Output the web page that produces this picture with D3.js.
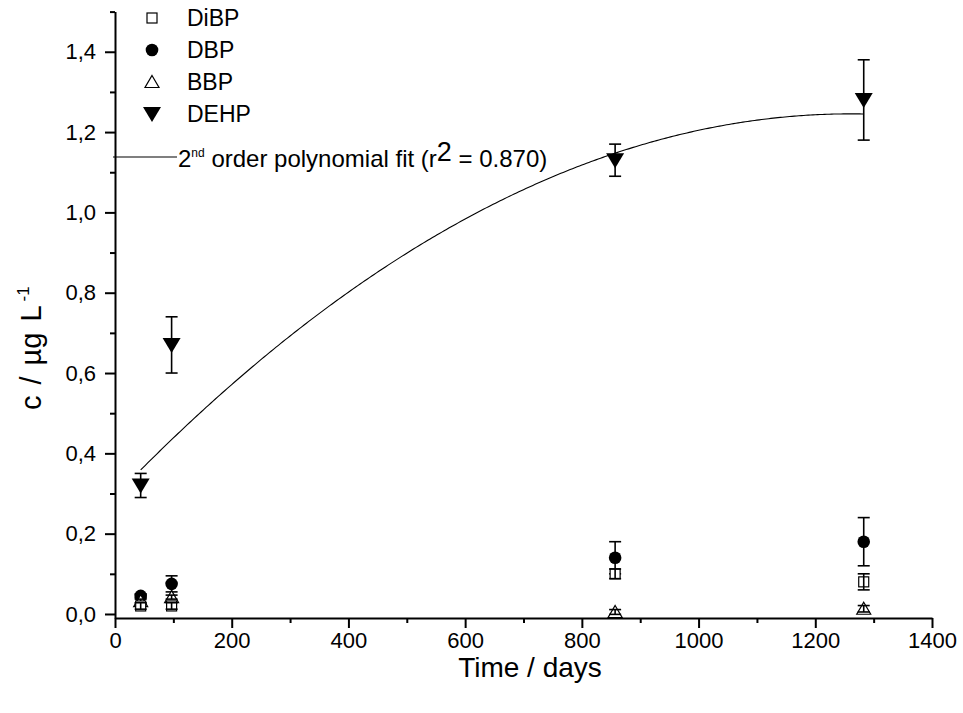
<!DOCTYPE html>
<html>
<head>
<meta charset="utf-8">
<script src="https://cdn.jsdelivr.net/npm/d3@7"></script>
<style>
  html, body { margin: 0; padding: 0; background: #fff; }
  svg { display: block; font-family: "Liberation Sans", Arial, sans-serif; }
</style>
</head>
<body>
<svg id="chart" width="963" height="713"></svg>
<script>
// ---- data ----
const days     = [44, 97, 857, 1283];
const dibp     = [0.020, 0.020, 0.100, 0.080];
const dibpErr  = [0.008, 0.008, 0.012, 0.020];
const dbp      = [0.045, 0.075, 0.140, 0.180];
const dbpErr   = [0.005, 0.020, 0.040, 0.060];
const bbp      = [0.032, 0.042, 0.005, 0.013];
const bbpErr   = [0.005, 0.005, 0.006, 0.008];
const dehp     = [0.32, 0.67, 1.13, 1.28];
const dehpErr  = [0.03, 0.07, 0.04, 0.10];
// 2nd order polynomial fit of DEHP: c = a + b*t + c*t^2
const fitCoef  = [0.2934, 1.509e-3, -5.98e-7];
const fitRange = [44, 1283];
const xTicks   = [0, 200, 400, 600, 800, 1000, 1200, 1400];
const xMinor   = [100, 300, 500, 700, 900, 1100, 1300];
const yTicks   = [0, 0.2, 0.4, 0.6, 0.8, 1.0, 1.2, 1.4];
const yMinor   = [0.1, 0.3, 0.5, 0.7, 0.9, 1.1, 1.3, 1.5];
const legendNames = ["DiBP", "DBP", "BBP", "DEHP"];

const svg = d3.select("#chart");
svg.append("rect").attr("width", 963).attr("height", 713).attr("fill", "#fff");

const x = d3.scaleLinear().domain([0, 1400]).range([115, 932]);
const y = d3.scaleLinear().domain([-0.01, 1.5]).range([618, 11.6]);

// ---- axes ----
const fmtY = d => d.toFixed(1).replace(".", ",");
const gx = svg.append("g").attr("transform", "translate(0,618)");
gx.call(d3.axisBottom(x).tickValues(xTicks).tickSize(10).tickSizeOuter(0).tickPadding(4).tickFormat(d3.format("d")));
const gxm = svg.append("g").attr("transform", "translate(0,618)");
gxm.call(d3.axisBottom(x).tickValues(xMinor).tickSize(5).tickSizeOuter(0).tickFormat(""));
gxm.select(".domain").remove();

const gy = svg.append("g").attr("transform", "translate(115,0)");
gy.call(d3.axisLeft(y).tickValues(yTicks).tickSize(10).tickSizeOuter(0).tickPadding(9).tickFormat(fmtY));
const gym = svg.append("g").attr("transform", "translate(115,0)");
gym.call(d3.axisLeft(y).tickValues(yMinor).tickSize(5).tickSizeOuter(0).tickFormat(""));
gym.select(".domain").remove();

[gx, gy, gxm, gym].forEach(g => {
  g.selectAll("path, line").attr("stroke", "#000").attr("stroke-width", 2);
  g.selectAll("text").attr("fill", "#000").style("font-size", "22px")
    .style("font-family", '"Liberation Sans", Arial, sans-serif');
});

// axis titles
svg.append("text").attr("x", 530).attr("y", 677).attr("text-anchor", "middle")
  .style("font-size", "28px").text("Time / days");
const yt = svg.append("text").attr("transform", "translate(41,410) rotate(-90)")
  .attr("text-anchor", "start").style("font-size", "29px");
yt.append("tspan").text("c");
yt.append("tspan").attr("dx", 11).text("/");
yt.append("tspan").attr("dx", 11).text("\u00b5g");
yt.append("tspan").attr("dx", 11).text("L");
yt.append("tspan").attr("dx", 4).attr("dy", -12).style("font-size", "17px").text("-1");

// ---- fit curve ----
const poly = t => fitCoef[0] + fitCoef[1] * t + fitCoef[2] * t * t;
const fitPts = d3.range(fitRange[0], fitRange[1], 4).concat([fitRange[1]]).map(t => [t, poly(t)]);
svg.append("path").datum(fitPts)
  .attr("d", d3.line().x(d => x(d[0])).y(d => y(d[1])))
  .attr("fill", "none").attr("stroke", "#000").attr("stroke-width", 1.1);

// ---- markers ----
function drawSymbol(g, type, cx, cy) {
  if (type === "square") {
    g.append("rect").attr("x", cx - 5).attr("y", cy - 5).attr("width", 10).attr("height", 10)
      .attr("fill", "#fff").attr("stroke", "#000").attr("stroke-width", 1.2);
  } else if (type === "circle") {
    g.append("circle").attr("cx", cx).attr("cy", cy).attr("r", 6.3).attr("fill", "#000");
  } else if (type === "tri") {
    g.append("path").attr("d", `M${cx},${cy - 6.5}L${cx + 7},${cy + 5.5}L${cx - 7},${cy + 5.5}Z`)
      .attr("fill", "#fff").attr("stroke", "#000").attr("stroke-width", 1.2);
  } else if (type === "tridown") {
    g.append("path").attr("d", `M${cx - 9},${cy - 7}L${cx + 9},${cy - 7}L${cx},${cy + 8}Z`)
      .attr("fill", "#000");
  }
}
function drawErr(g, cx, v, e) {
  const y1 = y(v + e), y2 = y(v - e);
  g.append("line").attr("x1", cx).attr("x2", cx).attr("y1", y1).attr("y2", y2)
    .attr("stroke", "#000").attr("stroke-width", 1.6);
  [y1, y2].forEach(yy => g.append("line").attr("x1", cx - 6).attr("x2", cx + 6)
    .attr("y1", yy).attr("y2", yy).attr("stroke", "#000").attr("stroke-width", 1.6));
}

const series = [
  { vals: dbp,  errs: dbpErr,  type: "circle" },
  { vals: bbp,  errs: bbpErr,  type: "tri" },
  { vals: dibp, errs: dibpErr, type: "square" },
  { vals: dehp, errs: dehpErr, type: "tridown" }
];
const gm = svg.append("g");
series.forEach(s => {
  days.forEach((t, i) => {
    const cx = x(t), cy = y(s.vals[i]);
    drawSymbol(gm, s.type, cx, cy);
    drawErr(gm, cx, s.vals[i], s.errs[i]);
  });
});

// ---- legend ----
const leg = svg.append("g");
const legTypes = ["square", "circle", "tri", "tridown"];
const legY = [18, 50, 82, 114];
legendNames.forEach((n, i) => {
  drawSymbol(leg, legTypes[i], 152, legY[i]);
  leg.append("text").attr("x", 187).attr("y", legY[i] + 8).style("font-size", "23px").text(n);
});
leg.append("line").attr("x1", 113).attr("x2", 177).attr("y1", 157).attr("y2", 157)
  .attr("stroke", "#000").attr("stroke-width", 1.1);
const ft = leg.append("text").attr("x", 178).attr("y", 167).style("font-size", "24px");
ft.append("tspan").text("2");
ft.append("tspan").attr("dy", -10).style("font-size", "12px").text("nd");
ft.append("tspan").attr("dy", 10).text(" order polynomial fit (r");
ft.append("tspan").attr("dy", -6).style("font-size", "27px").text("2");
ft.append("tspan").attr("dy", 6).text(" = 0.870)");
</script>
</body>
</html>
